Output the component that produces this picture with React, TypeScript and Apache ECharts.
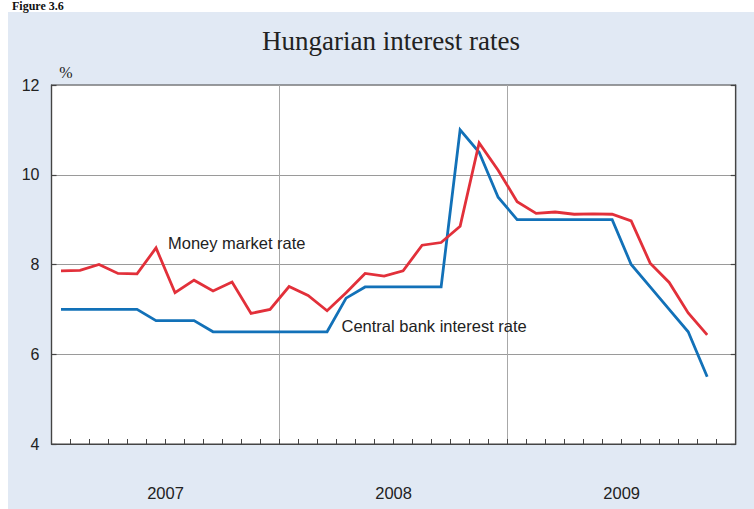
import React, { useEffect, useRef } from "react";
import * as echarts from "echarts";

const years = ["2007", "2008", "2009"];
const months: string[] = [];
for (const y of years) {
  for (let m = 1; m <= 12; m++) months.push(`${y}-${m < 10 ? "0" + m : m}`);
}

const moneyMarketRate = [
  7.86, 7.87, 8.0, 7.8, 7.79, 8.37, 7.37, 7.65, 7.41, 7.61, 6.91, 7.0,
  7.51, 7.31, 6.97, 7.37, 7.8, 7.74, 7.86, 8.43, 8.49, 8.85, 10.71, 10.1,
  9.4, 9.14, 9.17, 9.12, 9.13, 9.12, 8.97, 8.03, 7.6, 6.92, 6.43,
];

const centralBankRate = [
  7.0, 7.0, 7.0, 7.0, 7.0, 6.75, 6.75, 6.75, 6.5, 6.5, 6.5, 6.5,
  6.5, 6.5, 6.5, 7.25, 7.5, 7.5, 7.5, 7.5, 7.5, 11.0, 10.5, 9.5,
  9.0, 9.0, 9.0, 9.0, 9.0, 9.0, 8.0, 7.5, 7.0, 6.5, 5.5,
];

const yTicks = { min: 4, max: 12, interval: 2 };

const title = "Hungarian interest rates";
const figureLabel = "Figure 3.6";
const unitLabel = "%";
const moneyLabel = "Money market rate";
const centralLabel = "Central bank interest rate";

export default function App() {
  const ref = useRef<HTMLDivElement>(null);

  useEffect(() => {
    if (!ref.current) return;
    const chart = echarts.init(ref.current, null, { renderer: "svg" });
    const sans = "Arial, 'Liberation Sans', Helvetica, sans-serif";
    const serif = "'Times New Roman', 'Liberation Serif', serif";
    const red = "#E2303A";
    const blue = "#1271B8";
    const axisDark = "#444444";

    chart.setOption({
      animation: false,
      backgroundColor: "#ffffff",
      graphic: [
        {
          type: "rect",
          z: -10,
          silent: true,
          shape: { x: 8, y: 12, width: 746, height: 497 },
          style: { fill: "#E1E9F4" },
        },
        {
          type: "text",
          x: 12,
          y: 0,
          style: {
            text: figureLabel,
            font: `bold 12px ${serif}`,
            fill: "#111111",
            textAlign: "left",
            textVerticalAlign: "top",
          },
        },
        {
          type: "text",
          x: 391,
          y: 41,
          style: {
            text: title,
            font: `27px ${serif}`,
            fill: "#222222",
            textAlign: "center",
            textVerticalAlign: "middle",
          },
        },
        {
          type: "text",
          x: 66,
          y: 72,
          style: {
            text: unitLabel,
            font: `16px ${serif}`,
            fill: "#222222",
            textAlign: "center",
            textVerticalAlign: "middle",
          },
        },
        {
          type: "text",
          x: 168,
          y: 242.6,
          z: 10,
          style: {
            text: moneyLabel,
            font: `16.5px ${sans}`,
            fill: "#222222",
            textAlign: "left",
            textVerticalAlign: "middle",
          },
        },
        {
          type: "text",
          x: 341.5,
          y: 326,
          z: 10,
          style: {
            text: centralLabel,
            font: `16.5px ${sans}`,
            fill: "#222222",
            textAlign: "left",
            textVerticalAlign: "middle",
          },
        },
      ],
      grid: {
        left: 51.5,
        top: 85,
        right: 18.3,
        bottom: 65,
        show: true,
        backgroundColor: "#ffffff",
        borderColor: axisDark,
        borderWidth: 1.2,
      },
      xAxis: [
        {
          type: "category",
          data: months,
          boundaryGap: true,
          position: "bottom",
          axisLine: { show: true, lineStyle: { color: axisDark, width: 1.2 } },
          axisTick: {
            show: true,
            inside: true,
            interval: 0,
            length: 5,
            lineStyle: { color: axisDark, width: 1 },
          },
          axisLabel: { show: false },
          splitLine: { show: false },
        },
        {
          type: "category",
          data: years,
          boundaryGap: true,
          position: "bottom",
          offset: 0,
          axisLine: { show: false },
          axisTick: { show: false },
          axisLabel: {
            show: true,
            interval: 0,
            margin: 40,
            fontFamily: sans,
            fontSize: 16.5,
            color: "#222222",
          },
          splitLine: {
            show: true,
            interval: 0,
            lineStyle: { color: "#a8a8a8", width: 1 },
          },
        },
      ],
      yAxis: [
        {
          type: "value",
          position: "left",
          min: yTicks.min,
          max: yTicks.max,
          interval: yTicks.interval,
          axisLine: { show: true, lineStyle: { color: axisDark, width: 1.2 } },
          axisTick: {
            show: true,
            inside: true,
            length: 5,
            lineStyle: { color: axisDark, width: 1.2 },
          },
          axisLabel: {
            margin: 12,
            fontFamily: sans,
            fontSize: 16,
            color: "#222222",
          },
          splitLine: {
            show: true,
            lineStyle: { color: "#9a9a9a", width: 1.2 },
          },
        },
        {
          type: "value",
          position: "right",
          min: yTicks.min,
          max: yTicks.max,
          interval: yTicks.interval,
          axisLine: { show: true, lineStyle: { color: axisDark, width: 1.2 } },
          axisTick: {
            show: true,
            inside: true,
            length: 5,
            lineStyle: { color: axisDark, width: 1.2 },
          },
          axisLabel: { show: false },
          splitLine: { show: false },
        },
      ],
      series: [
        {
          name: centralLabel,
          type: "line",
          xAxisIndex: 0,
          yAxisIndex: 0,
          data: centralBankRate,
          symbol: "none",
          lineStyle: { color: blue, width: 2.8, join: "miter" },
          z: 3,
        },
        {
          name: moneyLabel,
          type: "line",
          xAxisIndex: 0,
          yAxisIndex: 0,
          data: moneyMarketRate,
          symbol: "none",
          lineStyle: { color: red, width: 2.8, join: "miter" },
          z: 4,
        },
      ],
    });

    return () => {
      chart.dispose();
    };
  }, []);

  return (
    <div
      ref={ref}
      style={{ position: "absolute", left: 0, top: 0, width: 754, height: 509 }}
    />
  );
}
